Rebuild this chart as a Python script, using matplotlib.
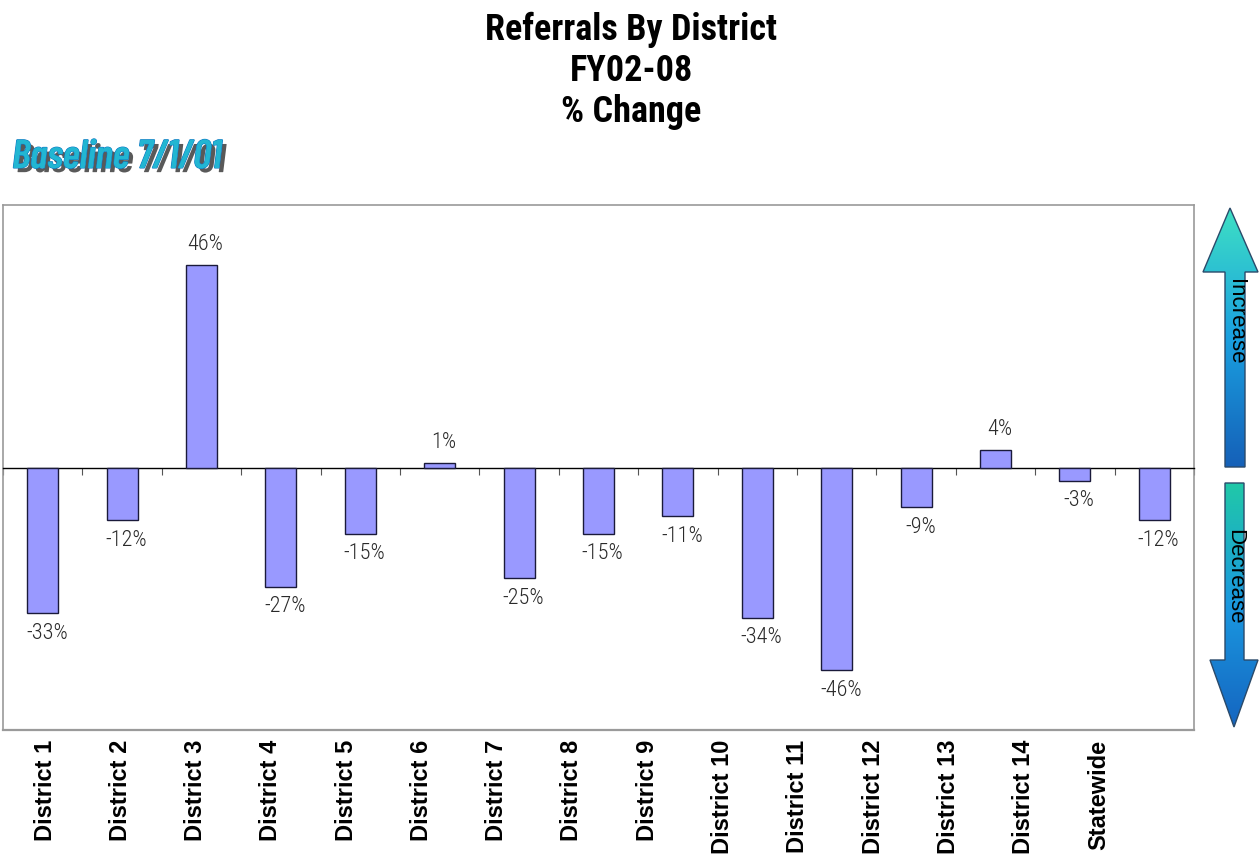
import numpy as np
import matplotlib
matplotlib.use("Agg")
import matplotlib.pyplot as plt
from matplotlib.patches import Polygon
import matplotlib.patheffects as pe
from matplotlib.colors import LinearSegmentedColormap

categories = ["District 1", "District 2", "District 3", "District 4", "District 5",
              "District 6", "District 7", "District 8", "District 9", "District 10",
              "District 11", "District 12", "District 13", "District 14", "Statewide"]
values = [-33, -12, 46, -27, -15, 1, -25, -15, -11, -34, -46, -9, 4, -3, -12]
value_labels = ["-33%", "-12%", "46%", "-27%", "-15%", "1%", "-25%", "-15%", "-11%",
                "-34%", "-46%", "-9%", "4%", "-3%", "-12%"]

COND = ["Roboto Condensed", "DejaVu Sans"]
BARLOW = ["Barlow Condensed", "Roboto Condensed", "DejaVu Sans"]
SANS = ["Liberation Sans", "DejaVu Sans"]

fig = plt.figure(figsize=(12.6, 8.61), dpi=100)
W, H = 1260, 861

def ax_rect(x0, y0, x1, y1):
    return [x0 / W, 1 - y1 / H, (x1 - x0) / W, (y1 - y0) / H]

ax = fig.add_axes(ax_rect(3, 205, 1194, 730))
x = np.arange(len(values))
ax.bar(x, values, width=0.39, color="#9999ff", edgecolor="#1a1a3a", linewidth=1.0, zorder=3)
ax.set_xlim(-0.5, len(values) - 0.5)
ax.set_ylim(-59.5, 59.5)

# value labels
for xi, v, lab in zip(x, values, value_labels):
    if v >= 0:
        ax.annotate(lab, (xi, v), xytext=(3, 7), textcoords="offset points",
                    ha="center", va="bottom", fontsize=16, family=COND, fontweight="light",
                    color="#2a2a2a")
    else:
        ax.annotate(lab, (xi, v), xytext=(3, -7), textcoords="offset points",
                    ha="center", va="top", fontsize=16, family=COND, fontweight="light",
                    color="#2a2a2a")

# spines
for s in ["left", "right", "top"]:
    ax.spines[s].set_color("#9a9a9a")
    ax.spines[s].set_linewidth(1.2)
ax.spines["bottom"].set_position(("data", 0))
ax.spines["bottom"].set_color("black")
ax.spines["bottom"].set_linewidth(1.0)
ax.plot([0, 1], [0, 0], transform=ax.transAxes, color="#9a9a9a", lw=1.6, clip_on=False)
ax.set_xticks(np.arange(len(values) + 1) - 0.5)
ax.set_xticklabels([])
ax.tick_params(axis="x", direction="out", length=5, width=0.8, color="#555555")
ax.set_yticks([])

# category labels (drawn below the plot frame)
label_pos = 0.03 + np.arange(len(categories)) * 0.948
for lp, c in zip(label_pos, categories):
    ax.text(lp, -0.018, c, transform=ax.get_xaxis_transform(), rotation=90,
            ha="center", va="top", fontsize=17, fontweight="bold", family=SANS, color="black")

# title
fig.text(631 / W, 1 - 71 / H, "Referrals By District\nFY02-08\n% Change", ha="center",
         va="center", fontsize=26, fontweight="bold", family=COND, linespacing=1.19)

# baseline text
fig.text(12 / W, 1 - 158 / H, "Baseline 7/1/01", ha="left", va="center", fontsize=29,
         fontweight=600, style="italic", family=BARLOW, color="#22b6d2",
         path_effects=[pe.withSimplePatchShadow(offset=(3, -3), shadow_rgbFace="#222222", alpha=0.75),
                       pe.Stroke(linewidth=0.8, foreground="#1278c4"), pe.Normal()])

# arrows on right
cmap_up = LinearSegmentedColormap.from_list("up", ["#3ee0c4", "#1aa0e0", "#1560b8"])
cmap_dn = LinearSegmentedColormap.from_list("dn", ["#20c8a8", "#1a98e0", "#1565c0"])
aa = fig.add_axes([0, 0, 1, 1], zorder=5)
aa.set_xlim(0, W)
aa.set_ylim(H, 0)
aa.axis("off")

up = [(1230, 208), (1258, 272), (1245, 272), (1245, 467), (1225, 467), (1225, 272), (1203, 272)]
dn = [(1225, 483), (1244, 483), (1244, 660), (1258, 660), (1234, 727), (1210, 660), (1225, 660)]
for pts, cm, y0, y1, lab, yc in [(up, cmap_up, 208, 467, "Increase", 322),
                                 (dn, cmap_dn, 483, 727, "Decrease", 577)]:
    poly = Polygon(pts, closed=True, facecolor="none", edgecolor="#2a4a6a", lw=1.0, zorder=3)
    aa.add_patch(poly)
    grad = np.linspace(0, 1, 256).reshape(-1, 1)
    im = aa.imshow(grad, cmap=cm, extent=(1200, 1260, y1, y0), aspect="auto", zorder=2)
    im.set_clip_path(poly)
    aa.text(1235, yc, lab, rotation=-90, ha="center", va="center", fontsize=16,
            family=SANS, color="black", zorder=4)
aa.set_xlim(0, W)
aa.set_ylim(H, 0)

fig.savefig("out.png", dpi=100)
